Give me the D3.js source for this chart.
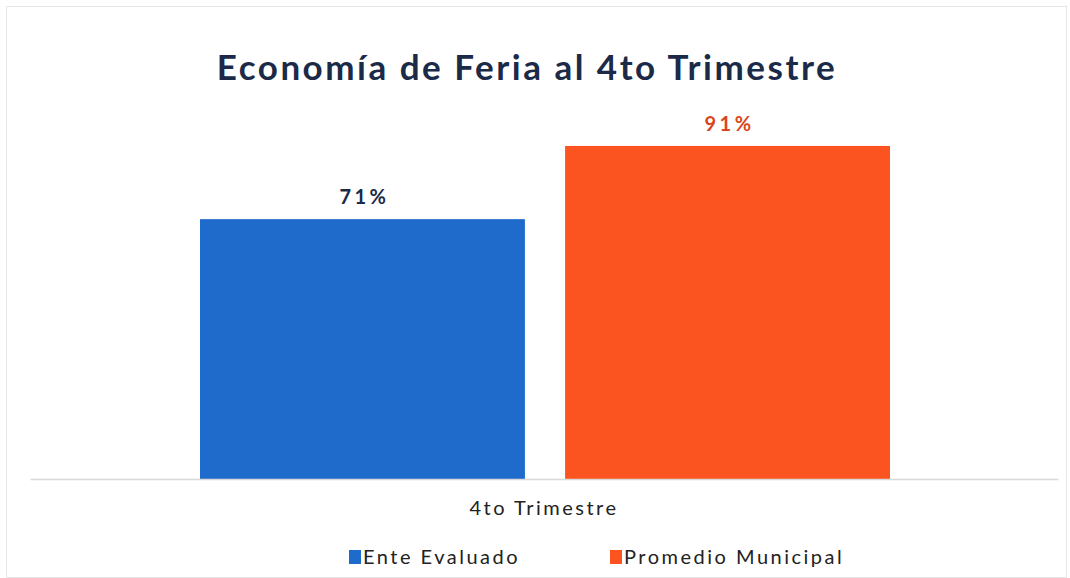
<!DOCTYPE html>
<html><head><meta charset="utf-8">
<script src="https://cdn.jsdelivr.net/npm/d3@7"></script>
<style>body{margin:0;background:#fff}svg{display:block}</style>
</head><body>
<script>
const categories = ["4to Trimestre"];
const series = ["Ente Evaluado", "Promedio Municipal"];
const values = [71, 91];
const labels = ["71%", "91%"];
const colors = ["#1f6bcc", "#fc5420"];
const labelColors = ["#1b2a48", "#d8461c"];
const title = "Economía de Feria al 4to Trimestre";

const W = 1070, H = 578;
const font = "Lato, 'Open Sans', sans-serif";
const svg = d3.select("body").append("svg").attr("width", W).attr("height", H);
svg.append("rect").attr("x", 0).attr("y", 0).attr("width", W).attr("height", H).attr("fill", "#fff");
svg.append("rect").attr("x", 6.5).attr("y", 6.5).attr("width", W - 10).attr("height", H - 7)
  .attr("fill", "none").attr("stroke", "#e6e6e6").attr("stroke-width", 1);

const x0 = d3.scaleBand().domain(categories).range([30, 1058]);
const x1 = d3.scaleBand().domain(series).range([200, 890]).paddingInner(0.11);
const y = d3.scaleLinear().domain([0, 100]).range([479, 113]);

svg.append("text").attr("x", 527).attr("y", 80).attr("text-anchor", "middle")
  .attr("font-family", font).attr("font-weight", 700).attr("font-size", 35)
  .attr("letter-spacing", 2.5).attr("fill", "#1b2a48").text(title);

const g = svg.append("g");
series.forEach((s, i) => {
  g.append("rect").attr("x", x1(s)).attr("y", y(values[i]))
    .attr("width", x1.bandwidth()).attr("height", y(0) - y(values[i]))
    .attr("fill", colors[i]);
  g.append("text").attr("x", x1(s) + x1.bandwidth() / 2 + 2).attr("y", y(values[i]) - 15)
    .attr("text-anchor", "middle").attr("font-family", font).attr("font-weight", 700)
    .attr("letter-spacing", 3.5)
    .attr("font-size", 20).attr("fill", labelColors[i]).text(labels[i]);
});

const xAxis = svg.append("g").attr("transform", `translate(0,${y(0)})`)
  .call(d3.axisBottom(x0).tickSize(0).tickPadding(22));
xAxis.select(".domain").attr("stroke", "#d9d9d9").attr("stroke-width", 1.5);
xAxis.selectAll("text").attr("font-family", font).attr("font-size", 20).attr("fill", "#222")
  .attr("letter-spacing", 2.5).attr("dx", 0);

const leg = svg.append("g");
const legX = [349, 610];
series.forEach((s, i) => {
  leg.append("rect").attr("x", legX[i]).attr("y", 550).attr("width", 12).attr("height", 14).attr("fill", colors[i]);
  leg.append("text").attr("x", legX[i] + 14).attr("y", 564).attr("font-family", font)
    .attr("letter-spacing", 2.5)
    .attr("font-size", 20).attr("fill", "#222").text(s);
});
</script>
</body></html>
